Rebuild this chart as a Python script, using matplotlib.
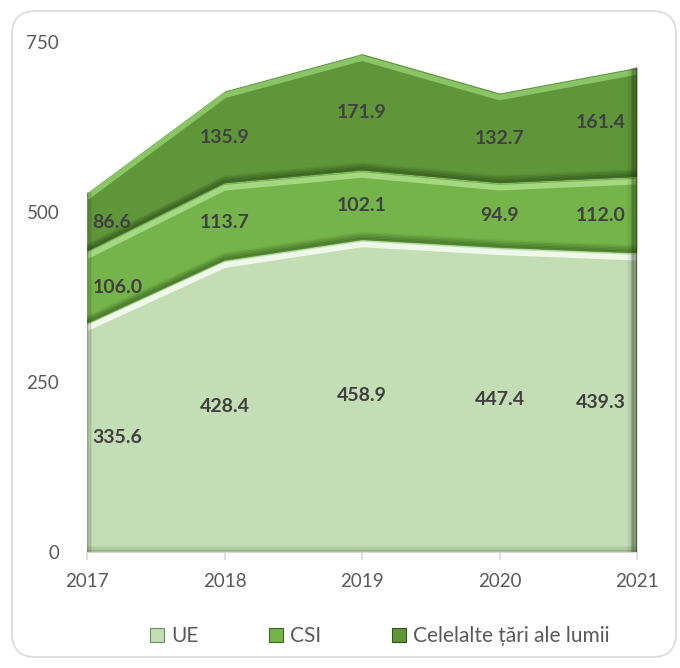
import matplotlib
matplotlib.use("Agg")
import matplotlib.pyplot as plt
import matplotlib.transforms as mtransforms
from matplotlib.patches import FancyBboxPatch, Patch
import numpy as np

years = ["2017", "2018", "2019", "2020", "2021"]
ue = [335.6, 428.4, 458.9, 447.4, 439.3]
csi = [106.0, 113.7, 102.1, 94.9, 112.0]
others = [86.6, 135.9, 171.9, 132.7, 161.4]
series_names = ["UE", "CSI", "Celelalte țări ale lumii"]
yticks = [0, 250, 500, 750]

colors = ["#C3DDB4", "#75B44A", "#5F963A"]
highlights = ["#F2FBEE", "#A6DB84", "#8CC76A"]
shadows = ["#6E8F62", "#3C6524", "#2F5219"]

FONT = ["Lato", "DejaVu Sans"]
plt.rcParams["font.family"] = FONT

fig = plt.figure(figsize=(6.8, 6.68), dpi=100)
ax = fig.add_axes([87 / 680, 1 - 552 / 668, (637 - 87) / 680, (552 - 42) / 668])

# outer rounded border
border = FancyBboxPatch((12 / 680, 11 / 668), (676 - 12) / 680, (657 - 11) / 668,
                        boxstyle="round,pad=0,rounding_size=0.035",
                        transform=fig.transFigure, facecolor="white",
                        edgecolor="#D9D9D9", lw=1.2, zorder=-10)
fig.patches.append(border)

x = np.arange(len(years))
data = [np.array(ue), np.array(csi), np.array(others)]
lower = np.zeros(len(years))
bands = []
for vals in data:
    upper = lower + vals
    bands.append((lower.copy(), upper.copy()))
    lower = upper

for i, (lo, up) in enumerate(bands):
    poly = ax.fill_between(x, lo, up, color=colors[i], lw=0, zorder=2 + i * 0.1,
                           label=series_names[i])
    clip = poly.get_paths()[0]
    # bevel highlight just below the top edge
    tr_down = mtransforms.offset_copy(ax.transData, fig=fig, x=0, y=-4.5, units="dots")
    l1, = ax.plot(x, up, color=highlights[i], lw=4, transform=tr_down,
                  zorder=2.05 + i * 0.1, solid_capstyle="butt", alpha=0.95)
    l1.set_clip_path(clip, transform=ax.transData)
    # dark shadow at the bottom edge (gradient)
    if i > 0:
        for k in range(5):
            tr_up = mtransforms.offset_copy(ax.transData, fig=fig, x=0, y=1 + k * 1.5, units="dots")
            l2, = ax.plot(x, lo, color=shadows[i], lw=1.8, transform=tr_up,
                          zorder=2.06 + i * 0.1, alpha=0.55 * (1 - k / 5))
            l2.set_clip_path(clip, transform=ax.transData)
    else:
        for k in range(4):
            tr_up = mtransforms.offset_copy(ax.transData, fig=fig, x=0, y=1 + k * 1.3, units="dots")
            l2, = ax.plot(x, lo, color=shadows[i], lw=1.5, transform=tr_up,
                          zorder=2.06 + i * 0.1, alpha=0.35 * (1 - k / 4))
            l2.set_clip_path(clip, transform=ax.transData)
    # right edge dark gradient
    for k in range(8):
        tr_r = mtransforms.offset_copy(ax.transData, fig=fig, x=-k * 1.3, y=0, units="dots")
        seg, = ax.plot([x[-1], x[-1]], [lo[-1], up[-1]], color="#1E2E14",
                       lw=1.5, alpha=0.5 * (1 - k / 8) ** 1.5, transform=tr_r,
                       zorder=2.07 + i * 0.1)
        seg.set_clip_path(clip, transform=ax.transData)
    # left edge dark
    for k in range(4):
        tr_l = mtransforms.offset_copy(ax.transData, fig=fig, x=k * 1.3, y=0, units="dots")
        seg, = ax.plot([x[0], x[0]], [lo[0], up[0]], color="#1E2E14",
                       lw=1.5, alpha=0.25 * (1 - k / 4), transform=tr_l,
                       zorder=2.07 + i * 0.1)
        seg.set_clip_path(clip, transform=ax.transData)

# data labels
for i, (lo, up) in enumerate(bands):
    for j in range(len(years)):
        mid = (lo[j] + up[j]) / 2
        val = data[i][j]
        if j == 0:
            ha, dx = "left", 4
        elif j == len(years) - 1:
            ha, dx = "right", -8
        else:
            ha, dx = "center", 0
        ax.annotate(f"{val:.1f}", (x[j], mid), xytext=(dx, 0), textcoords="offset points",
                    ha=ha, va="center", fontsize=14, fontweight="bold",
                    color="#404040", zorder=10)

ax.set_xlim(x[0], x[-1])
ax.set_ylim(0, 750)
ax.set_xticks(x)
ax.set_xticklabels(years)
ax.set_yticks(yticks)
ax.set_yticklabels([str(t) for t in yticks])
for s in ["top", "right", "left"]:
    ax.spines[s].set_visible(False)
ax.spines["bottom"].set_color("#D9D9D9")
ax.spines["bottom"].set_linewidth(1.2)
ax.spines["bottom"].set_zorder(1)
ax.tick_params(axis="x", colors="#D9D9D9", length=6, width=1.2, pad=9,
               labelcolor="#595959", labelsize=13.5)
ax.tick_params(axis="y", length=0, pad=20, labelcolor="#595959", labelsize=13.5)
ax.patch.set_visible(False)

handles = [Patch(facecolor=colors[i], edgecolor=shadows[i], lw=0.8) for i in range(3)]
leg = fig.legend(handles, series_names, loc="center", bbox_to_anchor=(380 / 680, 1 - 636 / 668),
                 ncol=3, frameon=False, fontsize=15, handlelength=0.65, handleheight=0.65,
                 handletextpad=0.35, columnspacing=3.4, labelcolor="#595959")

fig.savefig("out.png", dpi=100)
